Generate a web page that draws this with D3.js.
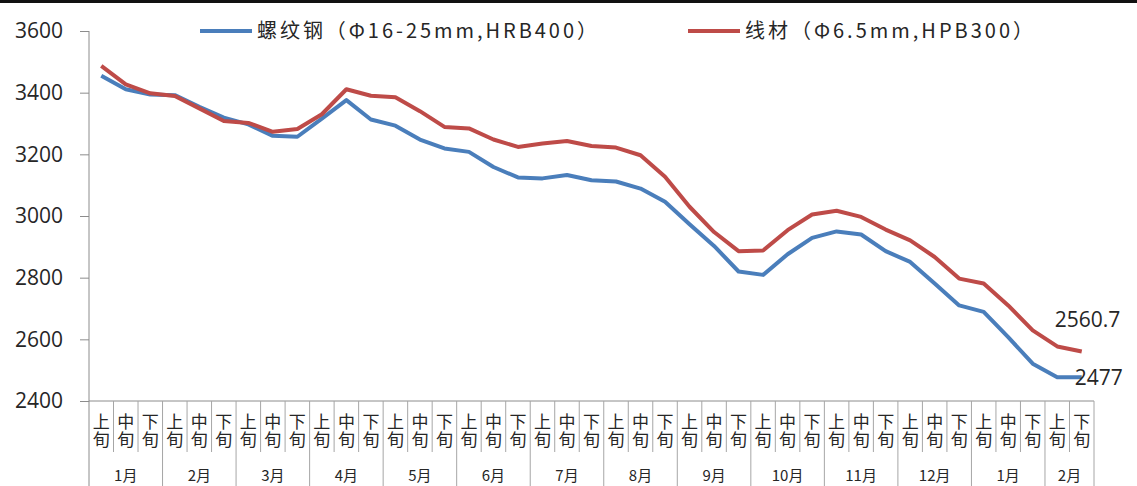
<!DOCTYPE html>
<html lang="zh">
  <head>
    <meta charset="UTF-8" />
    <script src="https://d3js.org/d3.v7.min.js"></script>
    <title>螺纹钢与线材价格</title>
    <style>
      body {
        margin: 0;
        background: #fff;
        font-family: "Noto Sans CJK SC", "Noto Sans", sans-serif;
      }
      .axis text {
        fill: #262626;
      }
    </style>
  </head>
  <body>
    <svg width="1137" height="486"></svg>
    <script>
      // 旬 labels per point, month groups
      const xunLabels = [
        "上旬", "中旬", "下旬", "上旬", "中旬", "下旬", "上旬", "中旬", "下旬",
        "上旬", "中旬", "下旬", "上旬", "中旬", "下旬", "上旬", "中旬", "下旬",
        "上旬", "中旬", "下旬", "上旬", "中旬", "下旬", "上旬", "中旬", "下旬",
        "上旬", "中旬", "下旬", "上旬", "中旬", "下旬", "上旬", "中旬", "下旬",
        "上旬", "中旬", "下旬", "上旬", "下旬"
      ];
      const monthLabels = ["1月", "2月", "3月", "4月", "5月", "6月", "7月", "8月", "9月", "10月", "11月", "12月", "1月", "2月"];
      const monthSpans = [3, 3, 3, 3, 3, 3, 3, 3, 3, 3, 3, 3, 3, 2];

      const rebar = [
        3455, 3411, 3394, 3392, 3354, 3319, 3297, 3260, 3257, 3316, 3376, 3313, 3293, 3248,
        3219, 3208, 3159, 3125, 3122, 3133, 3116, 3112, 3089, 3046, 2973, 2903, 2820,
        2809, 2876, 2929, 2950, 2940, 2886, 2851, 2781, 2710, 2689, 2607, 2521, 2477, 2477
      ];
      const wire = [
        3487, 3427, 3398, 3389, 3349, 3308, 3302, 3273, 3282, 3330, 3411, 3390, 3385, 3340,
        3289, 3284, 3248, 3224, 3235, 3243, 3227, 3222, 3197, 3127, 3030, 2948, 2886,
        2888, 2954, 3005, 3017, 2997, 2956, 2921, 2867, 2797, 2781, 2710, 2629, 2577, 2560.7
      ];
      const seriesNames = ["螺纹钢（Φ16-25mm,HRB400）", "线材（Φ6.5mm,HPB300）"];
      const colors = ["#4a7ebb", "#be4b48"];
      const yTicks = [2400, 2600, 2800, 3000, 3200, 3400, 3600];

      const plotLeft = 89, plotRight = 1094, plotTop = 31, plotBottom = 401;
      const svg = d3.select("svg");

      // top frame line
      svg.append("rect").attr("x", 0).attr("y", 0).attr("width", 1137).attr("height", 3).attr("fill", "#111");

      const x = d3.scaleBand()
        .domain(d3.range(xunLabels.length))
        .range([plotLeft, plotRight])
        .paddingInner(0).paddingOuter(0);
      const cx = (i) => x(i) + x.bandwidth() / 2;

      const y = d3.scaleLinear().domain([2400, 3600]).range([plotBottom, plotTop]);

      // y axis
      const yAxis = svg.append("g")
        .attr("class", "axis")
        .attr("transform", `translate(${plotLeft},0)`)
        .call(d3.axisLeft(y).tickValues(yTicks).tickFormat(d3.format("d"))
          .tickSize(9).tickSizeOuter(0).tickPadding(17));
      yAxis.selectAll("path, line").attr("stroke", "#8c8c8c");
      yAxis.select(".domain").attr("d", `M0,${plotTop}V486`);
      yAxis.selectAll("text")
        .style("font-family", "'Open Sans', 'Noto Sans', sans-serif")
        .style("font-size", "21px");

      // x axis (category table)
      const xg = svg.append("g").attr("class", "axis");
      xg.append("line")
        .attr("x1", plotLeft).attr("x2", plotRight)
        .attr("y1", plotBottom).attr("y2", plotBottom)
        .attr("stroke", "#8c8c8c");

      let start = 0;
      const monthStarts = monthSpans.map((n) => { const s = start; start += n; return s; });
      const isMonthStart = new Set(monthStarts);

      xg.selectAll("line.sep")
        .data(d3.range(1, xunLabels.length))
        .join("line")
        .attr("class", "sep")
        .attr("x1", (i) => x(i)).attr("x2", (i) => x(i))
        .attr("y1", plotBottom)
        .attr("y2", (i) => (isMonthStart.has(i) ? 486 : 452))
        .attr("stroke", "#a6a6a6");
      xg.append("line")
        .attr("x1", plotRight).attr("x2", plotRight)
        .attr("y1", plotBottom).attr("y2", 486)
        .attr("stroke", "#a6a6a6");

      // vertical two-character labels
      xg.selectAll("text.xun")
        .data(xunLabels)
        .join("text")
        .attr("class", "xun")
        .attr("x", (d, i) => cx(i))
        .attr("y", 431)
        .attr("text-anchor", "middle")
        .style("writing-mode", "vertical-rl")
        .style("font-size", "17px")
        .style("letter-spacing", "1px")
        .text((d) => d);

      xg.selectAll("text.month")
        .data(monthLabels)
        .join("text")
        .attr("class", "month")
        .attr("x", (d, k) => (x(monthStarts[k]) + x(monthStarts[k] + monthSpans[k] - 1) + x.bandwidth()) / 2)
        .attr("y", 481)
        .attr("text-anchor", "middle")
        .style("font-size", "15px")
        .text((d) => d);

      // lines
      const line = d3.line().x((d, i) => cx(i)).y((d) => y(d));
      [rebar, wire].forEach((s, k) => {
        svg.append("path")
          .datum(s)
          .attr("fill", "none")
          .attr("stroke", colors[k])
          .attr("stroke-width", 4)
          .attr("stroke-linejoin", "round")
          .attr("d", line);
      });

      // end labels
      const last = xunLabels.length - 1;
      svg.append("text")
        .attr("x", cx(last) - 27).attr("y", y(wire[last]) - 24)
        .style("font-family", "'Open Sans', 'Noto Sans', sans-serif")
        .style("font-size", "21px").attr("fill", "#262626")
        .text(wire[last]);
      svg.append("text")
        .attr("x", cx(last) - 7).attr("y", y(rebar[last]) + 8)
        .style("font-family", "'Open Sans', 'Noto Sans', sans-serif")
        .style("font-size", "21px").attr("fill", "#262626")
        .text(rebar[last]);

      // legend
      const legendX = [200, 688];
      const legendTextLen = [340, 288];
      seriesNames.forEach((name, k) => {
        const g = svg.append("g").attr("transform", `translate(${legendX[k]},31)`);
        g.append("line").attr("x1", 0).attr("x2", 52).attr("stroke", colors[k]).attr("stroke-width", 4);
        g.append("text")
          .attr("x", 57).attr("y", 7)
          .attr("textLength", legendTextLen[k])
          .attr("lengthAdjust", "spacing")
          .style("font-size", "20px").attr("fill", "#262626")
          .text(name);
      });
    </script>
  </body>
</html>
